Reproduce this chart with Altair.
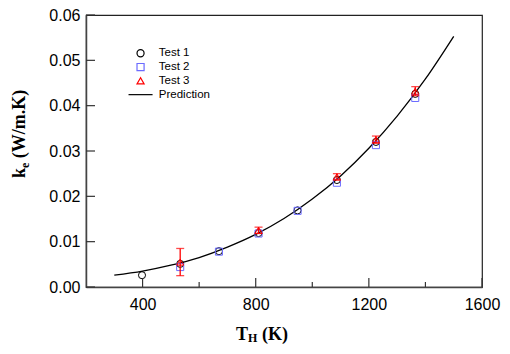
import altair as alt
import pandas as pd

# ---------------- data ----------------
series_names = ["Test 1", "Test 2", "Test 3", "Prediction"]
series_colors = ["black", "#6b6bff", "red", "black"]
series_shapes = ["circle", "square", "triangle-up", "M-3.4,0H3.4"]

t1_x = [398, 533, 670, 810, 948, 1087, 1225, 1364]
t1_y = [0.0026, 0.0051, 0.0079, 0.0119, 0.0169, 0.0236, 0.0320, 0.0426]

t2_x = [533, 670, 810, 948, 1087, 1225, 1364]
t2_y = [0.0044, 0.0078, 0.0118, 0.0168, 0.0230, 0.0313, 0.0417]

t3_x = [533, 810, 1087, 1225, 1364]
t3_y = [0.0055, 0.0125, 0.0243, 0.0325, 0.0432]
t3_err = [0.0030, 0.0007, 0.0007, 0.0008, 0.0010]

pred_x = [300, 400, 500, 600, 700, 800, 900, 1000, 1100, 1200, 1300, 1400, 1500]
pred_y = [0.0026, 0.0035, 0.0048, 0.0065, 0.0088, 0.0116, 0.0151, 0.0194,
          0.0245, 0.0306, 0.0377, 0.0459, 0.0553]

x_label_values = [400, 800, 1200, 1600]
x_minor_ticks = [600, 1000, 1400]
y_label_values = [0.0, 0.01, 0.02, 0.03, 0.04, 0.05, 0.06]

x_title_parts = ["T", "H", "(K)"]
y_title_parts = ["k", "e", "(W/m.K)"]

# ---------------- layout ----------------
W, H = 396, 272
xs = alt.Scale(domain=[200, 1600], nice=False)
ys = alt.Scale(domain=[0, 0.06], nice=False)

markers = pd.DataFrame(
    {"x": t1_x + t2_x + t3_x,
     "y": t1_y + t2_y + t3_y,
     "series": ["Test 1"] * len(t1_x) + ["Test 2"] * len(t2_x) + ["Test 3"] * len(t3_x)}
)
err = pd.DataFrame({"x": t3_x,
                    "lo": [v - e for v, e in zip(t3_y, t3_err)],
                    "hi": [v + e for v, e in zip(t3_y, t3_err)]})
pred = pd.DataFrame({"x": pred_x, "y": pred_y})

base_x = alt.X("x:Q", scale=xs, title=None,
               axis=alt.Axis(values=x_label_values, format="d", ticks=False, grid=False,
                             labelFlush=False, labelBound=False,
                             labelPadding=9, labelFontSize=16, labelFont="Liberation Sans",
                             labelColor="black", domainColor="#444", domainWidth=1.5))
base_y = alt.Y("y:Q", scale=ys, title=None,
               axis=alt.Axis(values=y_label_values, format=".2f", ticks=False, grid=False,
                             labelFlush=False,
                             labelPadding=6, labelFontSize=16, labelFont="Liberation Sans",
                             labelColor="black", domainColor="#444", domainWidth=1.5))

line = alt.Chart(pred).mark_line(color="black", strokeWidth=1.3, interpolate="monotone").encode(
    x=base_x, y=base_y)

legend = alt.Legend(
    title=None, orient="none", legendX=48.8, legendY=32.5, padding=0,
    labelFont="Liberation Sans", labelFontSize=11.5, labelColor="black",
    labelOffset=12.5, rowPadding=0.8, symbolStrokeWidth=1.2, symbolSize=50,
)

pts = alt.Chart(markers).mark_point(filled=False, strokeWidth=1, opacity=1, size=50).encode(
    x=alt.X("x:Q", scale=xs),
    y=alt.Y("y:Q", scale=ys),
    color=alt.Color("series:N", scale=alt.Scale(domain=series_names, range=series_colors), legend=legend),
    shape=alt.Shape("series:N", scale=alt.Scale(domain=series_names, range=series_shapes), legend=legend),
)

err_rule = alt.Chart(err).mark_rule(color="red", strokeWidth=1.3).encode(
    x=alt.X("x:Q", scale=xs), y=alt.Y("lo:Q", scale=ys), y2="hi:Q")
cap_lo = alt.Chart(err).mark_tick(color="red", orient="horizontal", size=8, thickness=1.3).encode(
    x=alt.X("x:Q", scale=xs), y=alt.Y("lo:Q", scale=ys))
cap_hi = alt.Chart(err).mark_tick(color="red", orient="horizontal", size=8, thickness=1.3).encode(
    x=alt.X("x:Q", scale=xs), y=alt.Y("hi:Q", scale=ys))

# inward ticks
xmaj = alt.Chart(pd.DataFrame({"v": x_label_values})).mark_rule(color="#333", strokeWidth=1.2).encode(
    x=alt.X("v:Q", scale=xs), y=alt.value(H), y2=alt.value(H - 9))
xmin = alt.Chart(pd.DataFrame({"v": x_minor_ticks})).mark_rule(color="#333", strokeWidth=1.2).encode(
    x=alt.X("v:Q", scale=xs), y=alt.value(H), y2=alt.value(H - 5))
ymaj = alt.Chart(pd.DataFrame({"v": y_label_values})).mark_rule(color="#333", strokeWidth=1.2).encode(
    y=alt.Y("v:Q", scale=ys), x=alt.value(0), x2=alt.value(9))

def txt(s, x, y, size=18, angle=0):
    return alt.Chart(pd.DataFrame({"t": [s]})).mark_text(
        font="Liberation Serif", fontWeight="bold", fontSize=size, align="left",
        baseline="alphabetic", angle=angle, color="black").encode(
        x=alt.value(x), y=alt.value(y), text="t:N")

titles = [
    txt(x_title_parts[0], 150, 324.5),
    txt(x_title_parts[1], 162, 327, size=12),
    txt(x_title_parts[2], 176, 324.5),
    txt(y_title_parts[0], -61, 163, angle=270),
    txt(y_title_parts[1], -57.5, 153, size=12, angle=270),
    txt(y_title_parts[2], -61, 143.2, angle=270),
]

chart = alt.layer(line, pts, err_rule, cap_lo, cap_hi, xmaj, xmin, ymaj, *titles).properties(
    width=W, height=H,
    autosize=alt.AutoSizeParams(type="none"),
    padding={"left": 78, "top": 7, "right": 20, "bottom": 59},
).configure_view(stroke="#222", strokeWidth=1.2)

chart.save("out.html", embed_options={"renderer": "svg", "actions": False})
